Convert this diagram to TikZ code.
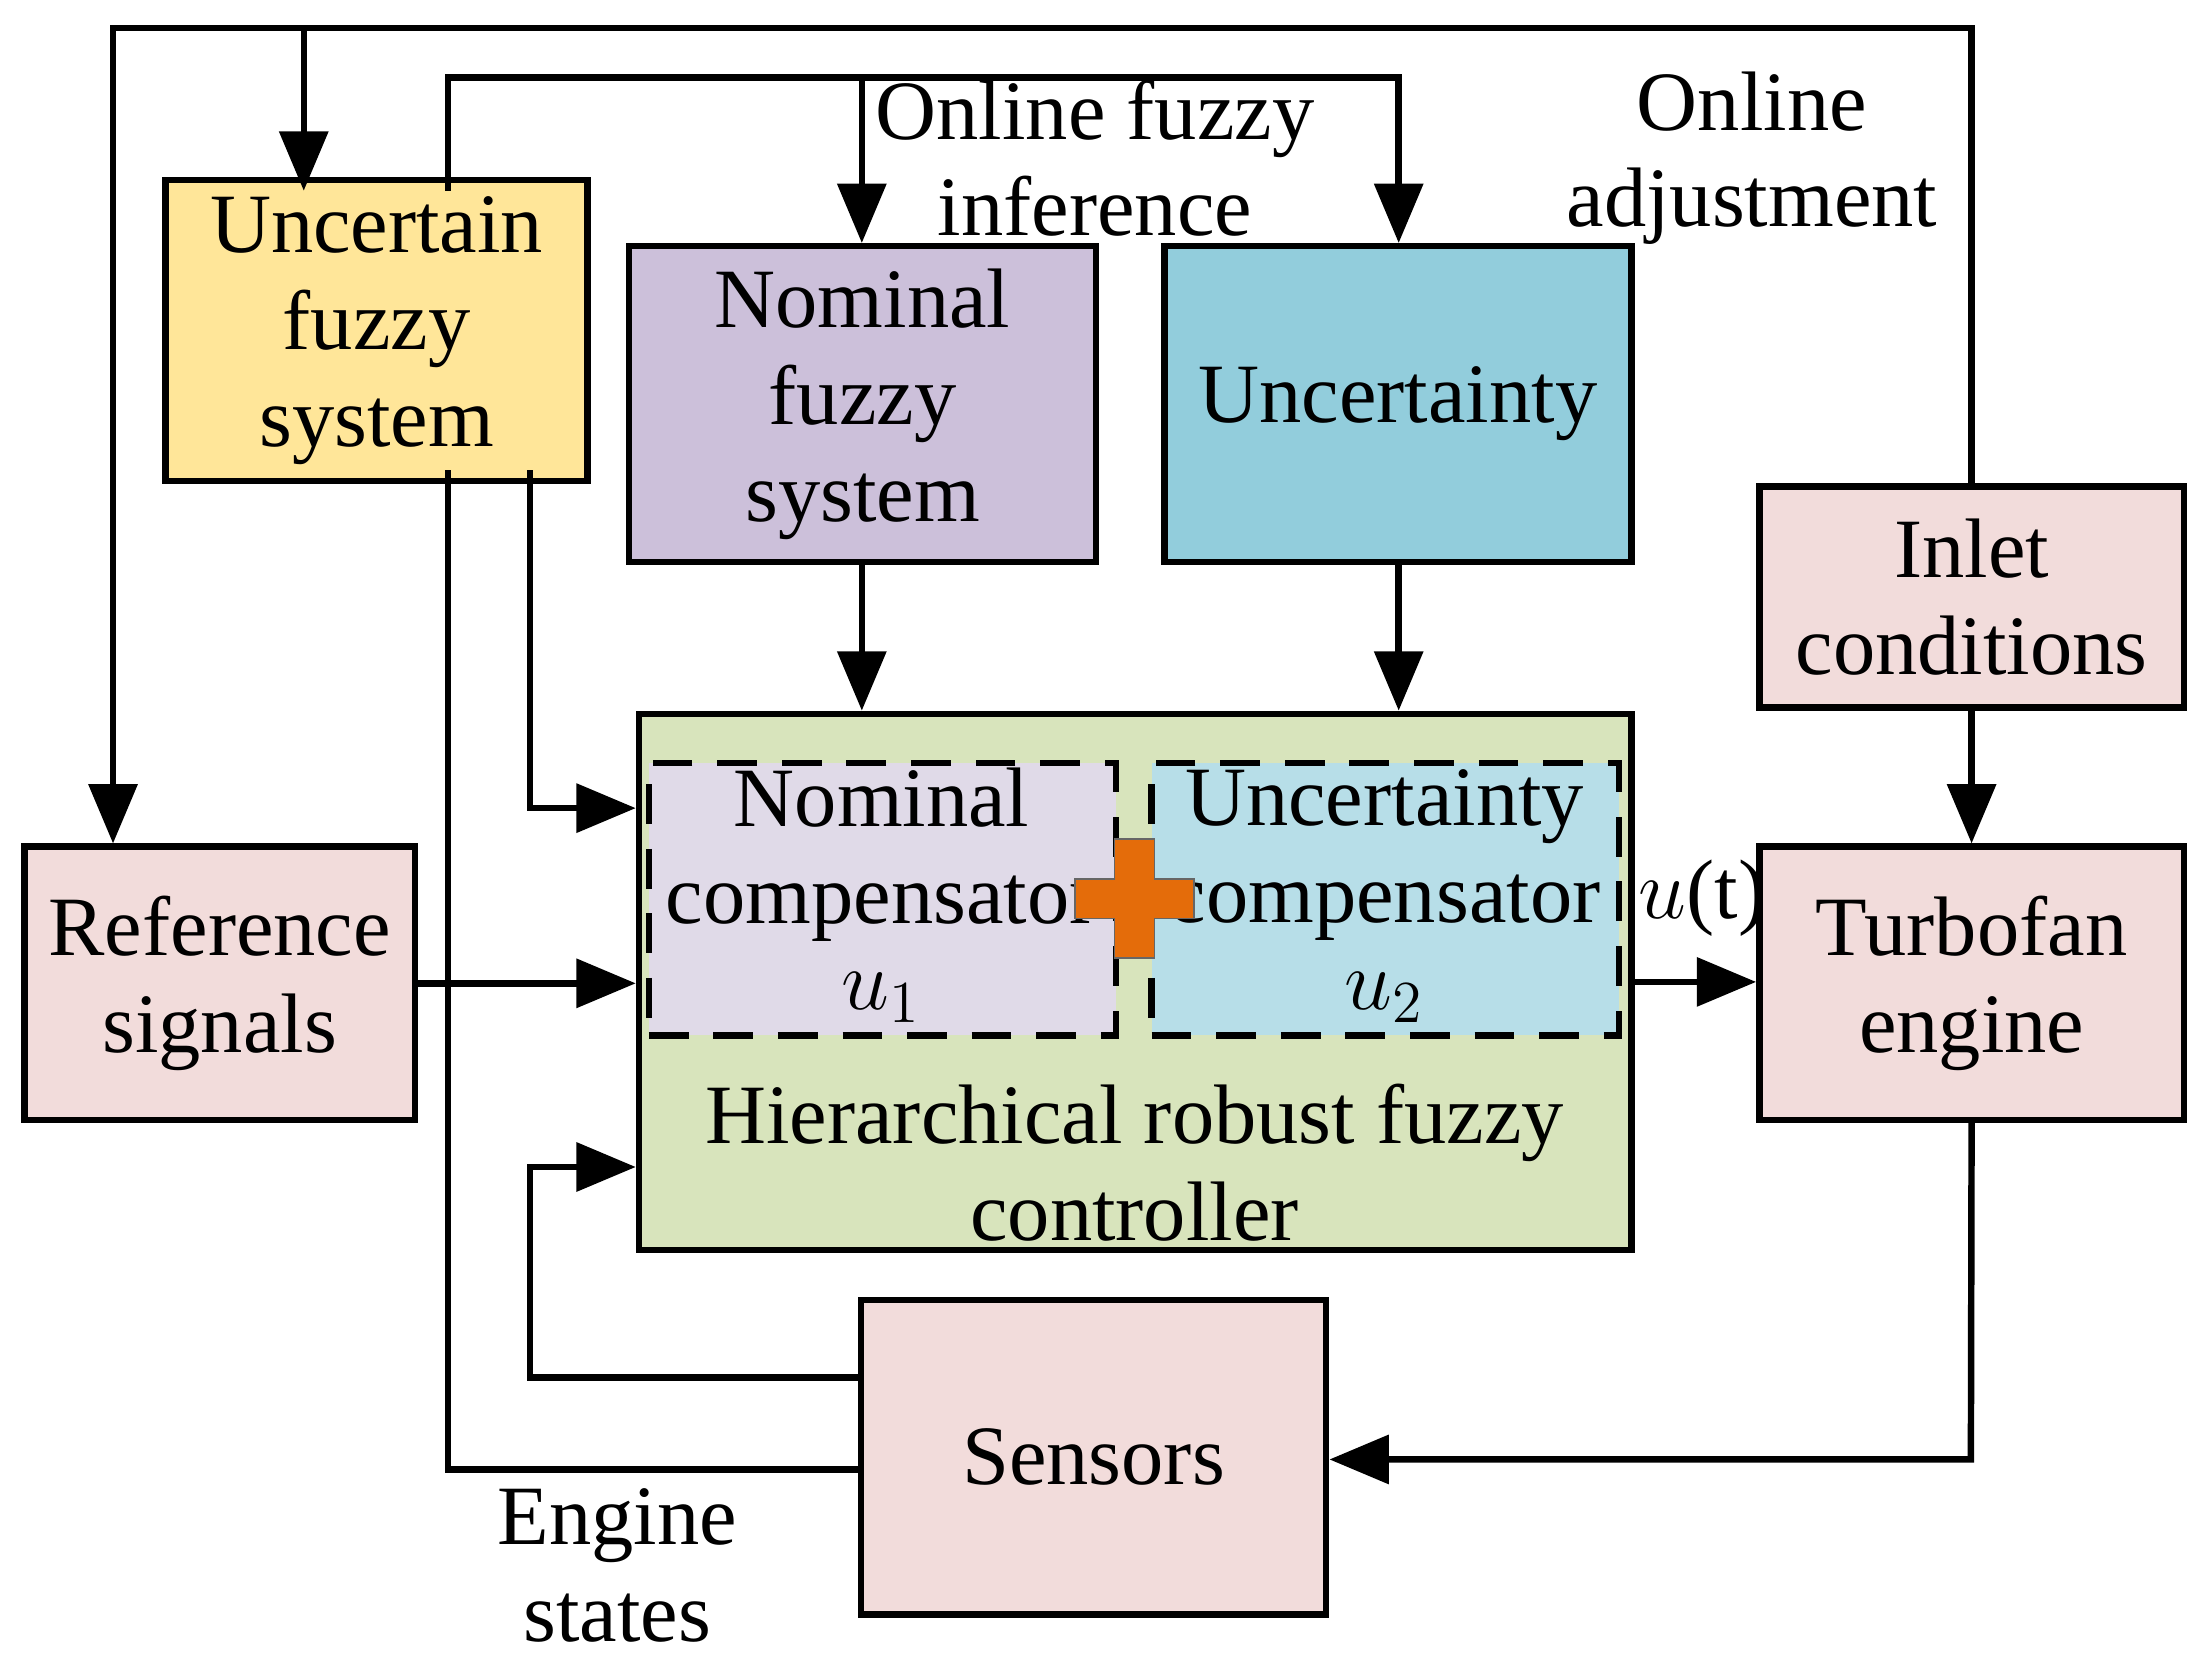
\documentclass[tikz,border=0pt]{standalone}
\usepackage{fontspec}
\setmainfont{Liberation Serif}
\usetikzlibrary{arrows.meta}
\definecolor{cyel}{HTML}{FFE699}
\definecolor{cpur}{HTML}{CCC0DA}
\definecolor{cblu}{HTML}{92CDDC}
\definecolor{cpink}{HTML}{F2DCDB}
\definecolor{cgrn}{HTML}{D8E4BC}
\definecolor{clpur}{HTML}{E0DAE8}
\definecolor{clblu}{HTML}{B7DEE8}
\definecolor{corg}{HTML}{E46C0A}
\begin{document}
\begin{tikzpicture}[x=0.01cm,y=-0.01cm,
  box/.style={draw,line width=1.3pt,align=center,font=\fontsize{17}{19.5}\selectfont},
  lbl/.style={align=center,font=\fontsize{17}{19.5}\selectfont},
  ln/.style={line width=1.3pt},
  ar/.style={ln,-{Triangle[length=0.42cm,width=0.34cm]}}]
\useasboundingbox (0,0) rectangle (1560,1170);
\def\bx#1#2#3#4#5#6#7{\node[box,fill=#6,minimum width=#3*0.01cm-1.3pt,minimum height=#4*0.01cm-1.3pt] (#5) at ({(#1+#3/2)},{(#2+#4/2)}) {#7};}
\bx{115}{135}{303}{198}{ufs}{cyel}{Uncertain\\fuzzy\\system}
\bx{443}{172}{335}{228}{nfs}{cpur}{Nominal\\fuzzy\\system}
\bx{822}{172}{335}{228}{unc}{cblu}{Uncertainty}
\bx{1243}{342}{305}{161}{inl}{cpink}{Inlet\\conditions}
\bx{15}{597}{281}{198}{ref}{cpink}{Reference\\signals}
\bx{1243}{597}{305}{198}{tur}{cpink}{Turbofan\\engine}
\bx{450}{503}{707}{384}{hc}{cgrn}{}
\node[lbl] (hct) at (803,823) {Hierarchical robust fuzzy\\controller};
\node[box,dashed,dash pattern=on 8pt off 5pt,fill=clpur,minimum width=3.35cm-1.3pt,minimum height=1.97cm-1.3pt] (nc) at (624.5,636.5) {};
\node[box,dashed,dash pattern=on 8pt off 5pt,fill=clblu,minimum width=3.35cm-1.3pt,minimum height=1.97cm-1.3pt] (uc) at (980.5,636.5) {};
\node[lbl] (nct) at (624,605) {Nominal\\compensator};
\node[lbl] (nu) at (624,706) {$u_1$};
\node[lbl] (uct) at (980,605) {Uncertainty\\compensator};
\node[lbl] (uu) at (980,706) {$u_2$};
\fill[corg,draw=black!60,line width=0.3pt] (789,594)--(817,594)--(817,622)--(845,622)--(845,650)--(817,650)--(817,678)--(789,678)--(789,650)--(761,650)--(761,622)--(789,622)--cycle;
\bx{607}{918}{334}{227}{sen}{cpink}{Sensors}
\node[lbl] (l1) at (775,112) {Online fuzzy\\inference};
\node[lbl] (l2) at (1240,112) {Online\\adjustment};
\node[lbl] (l3) at (437,1108) {Engine\\states};
\node[lbl] (l4) at (1205,636) {$u$(t)};
% top loop
\coordinate (t1) at (1395,20); \coordinate (t2) at (80,20); \coordinate (t3) at (215,20);
\draw[ar] (inl.north) |- (t1) -- (t2) -- (ref.north -| t2);
\draw[ar] (t3) -- (215,135);
\coordinate (s1) at (317,55); \coordinate (s2) at (990,55);
\draw[ar] (317,135) -- (s1) -- (s2) -- (990,172);
\draw[ar] (610,55) -- (610,172);
\draw[ar] (610,400) -- (610,503);
\draw[ar] (990,400) -- (990,503);
\draw[ar] (375,333) -- (375,572) -- (450,572);
\draw[ar] (ref.east) -- (ref.east -| hc.west);
\draw[ar] (hc.east) -- (hc.east -| tur.west);
\draw[ar] (inl.south) -- (tur.north);
\draw[ar] (tur.south) -- (1395,1033) -- (941,1033);
\draw[ar] (607,975) -- (375,975) -- (375,826) -- (450,826);
\draw[ln] (607,1040) -- (317,1040) -- (317,333);
\end{tikzpicture}
\end{document}
